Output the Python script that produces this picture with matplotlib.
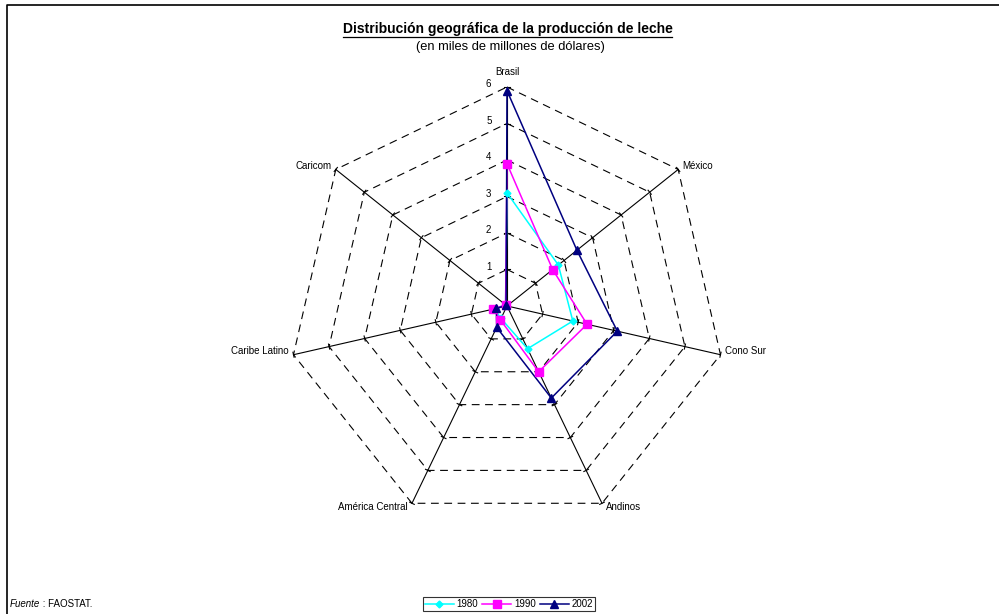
import numpy as np
import matplotlib.pyplot as plt
from matplotlib.lines import Line2D

plt.rcParams['font.family'] = ['Liberation Sans', 'DejaVu Sans']

# datos (miles de millones de dólares)
regiones = ['Brasil', 'México', 'Cono Sur', 'Andinos', 'América Central',
            'Caribe Latino', 'Caricom']
v1980 = [3.1, 1.8, 1.85, 1.3, 0.38, 0.35, 0.05]
v1990 = [3.9, 1.6, 2.25, 2.0, 0.42, 0.38, 0.05]
v2002 = [5.9, 2.45, 3.1, 2.8, 0.65, 0.3, 0.03]
anios = ['1980', '1990', '2002']
niveles = [1, 2, 3, 4, 5, 6]

n = len(regiones)
ang = np.pi / 2 - np.arange(n) * 2 * np.pi / n


def xy(vals):
    vals = np.asarray(vals, dtype=float)
    x = vals * np.cos(ang)
    y = vals * np.sin(ang)
    return np.append(x, x[0]), np.append(y, y[0])


fig = plt.figure(figsize=(9.99, 6.14), dpi=100)
ax = fig.add_axes([0.2335, 0.0558, 0.548, 0.8917])
ax.set_xlim(-7.5, 7.5)
ax.set_ylim(-7.5, 7.5)
ax.set_aspect('equal')
ax.axis('off')

# rejilla
for r in niveles:
    gx, gy = xy([r] * n)
    ax.plot(gx, gy, color='black', lw=0.8, ls=(0, (7, 5)), zorder=1)
rmax = niveles[-1]
for a in ang:
    ax.plot([0, rmax * np.cos(a)], [0, rmax * np.sin(a)], color='black', lw=0.8, zorder=1)
    px, py = -np.sin(a), np.cos(a)
    for r in niveles:
        cx, cy = r * np.cos(a), r * np.sin(a)
        ax.plot([cx - 0.07 * px, cx + 0.07 * px], [cy - 0.07 * py, cy + 0.07 * py],
                color='black', lw=0.8, zorder=1)

for r in niveles:
    ax.text(-0.5, r + 0.08, str(r), ha='center', va='center', fontsize=7)

# etiquetas de las regiones
for i, nombre in enumerate(regiones):
    a = ang[i]
    c = np.cos(a)
    if abs(c) < 0.05:
        ha = 'center'
    elif c > 0:
        ha = 'left'
    else:
        ha = 'right'
    dx = 0.12 if ha == 'left' else (-0.12 if ha == 'right' else 0)
    dy = 0.4 if ha == 'center' else 0.1
    if i in (3, 4):
        dy = -0.1
    ax.text(rmax * np.cos(a) + dx, rmax * np.sin(a) + dy, nombre,
            ha=ha, va='center', fontsize=7)

# series
estilos = [('#00FFFF', 'D', 3.5), ('#FF00FF', 's', 5.5), ('#000080', '^', 6)]
for vals, (col, mk, ms), lab in zip([v1980, v1990, v2002], estilos, anios):
    sx, sy = xy(vals)
    ax.plot(sx, sy, color=col, lw=1.1, zorder=3)
    ax.plot(sx[:-1], sy[:-1], ls='none', marker=mk, ms=ms, color=col, zorder=4)

# títulos
fig.text(0.508, 1 - 29 / 614, 'Distribución geográfica de la producción de leche',
         ha='center', va='center', fontsize=10, fontweight='bold')
fig.lines.append(Line2D([343 / 999, 672 / 999], [1 - 37 / 614, 1 - 37 / 614],
                        transform=fig.transFigure, color='black', lw=0.9))
fig.text(510.5 / 999, 1 - 47 / 614, '(en miles de millones de dólares)',
         ha='center', va='center', fontsize=9.3)

# fuente
t1 = fig.text(10 / 999, 1 - 604 / 614, 'Fuente', ha='left', va='center',
              fontsize=7, style='italic')
fig.canvas.draw()
bb = t1.get_window_extent()
fig.text(bb.x1 / 999, 1 - 604 / 614, ' : FAOSTAT.', ha='left', va='center', fontsize=7)

# leyenda
handles = [Line2D([], [], color=c, marker=m, ms=s, lw=1.1) for c, m, s in estilos]
leg = fig.legend(handles, anios, loc='center', bbox_to_anchor=(509 / 999, 1 - 604 / 614),
                 ncol=3, fontsize=7, frameon=True, fancybox=False, handlelength=3,
                 handletextpad=0.3, columnspacing=0.4, borderpad=0.2, borderaxespad=0)
leg.get_frame().set_edgecolor('black')
leg.get_frame().set_linewidth(0.8)

# marco
fig.lines.append(Line2D([7 / 999, 7 / 999, 1], [0, 1 - 5 / 614, 1 - 5 / 614],
                        transform=fig.transFigure, color='black', lw=1.2))

fig.savefig('out.png', dpi=100)
